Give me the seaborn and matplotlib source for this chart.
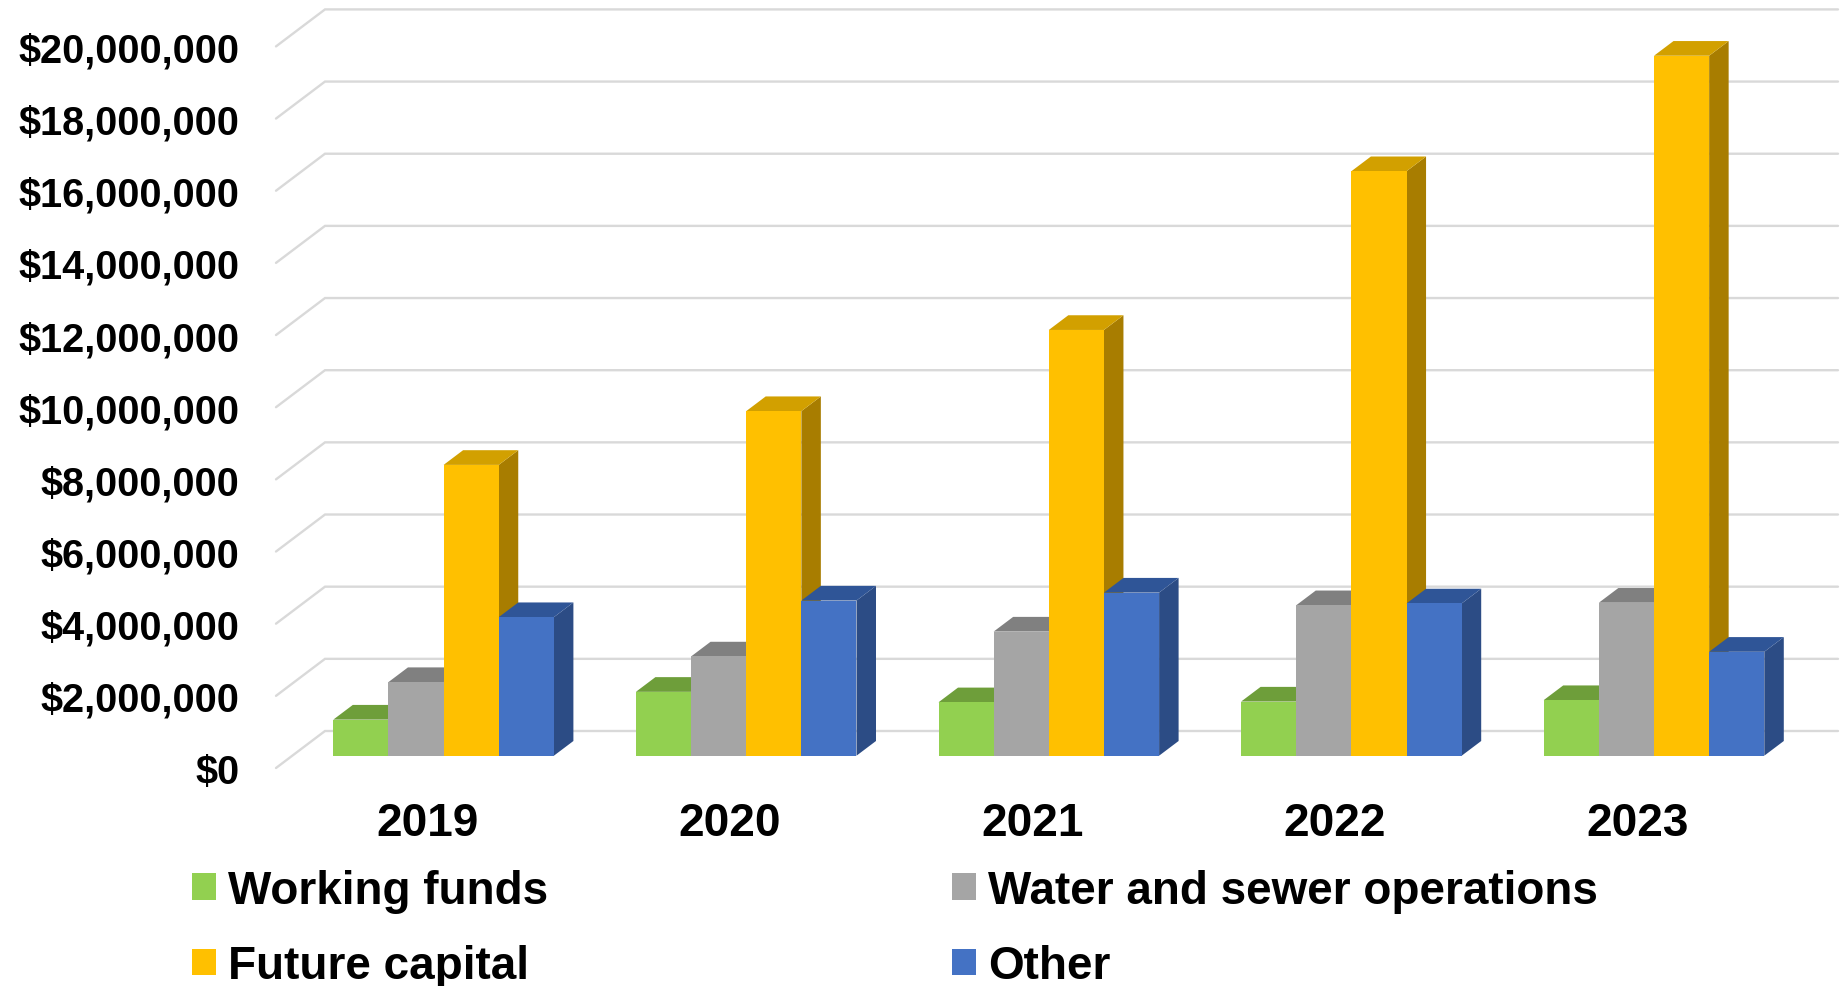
import numpy as np
import pandas as pd
import seaborn as sns
import matplotlib
matplotlib.use("Agg")
import matplotlib.pyplot as plt
from matplotlib.patches import Polygon, Patch
from matplotlib.lines import Line2D
from matplotlib.transforms import ScaledTranslation, IdentityTransform
from matplotlib.ticker import FuncFormatter, FixedLocator

# ---------------- data ----------------
years = ["2019", "2020", "2021", "2022", "2023"]
series = ["Working funds", "Water and sewer operations", "Future capital", "Other"]
working_funds = [1.00e6, 1.77e6, 1.48e6, 1.50e6, 1.54e6]
water_sewer = [2.04e6, 2.75e6, 3.44e6, 4.17e6, 4.24e6]
future_capital = [8.06e6, 9.55e6, 11.80e6, 16.20e6, 19.40e6]
other = [3.84e6, 4.30e6, 4.52e6, 4.22e6, 2.88e6]
y_ticks = list(range(0, 20_000_001, 2_000_000))

front_colors = ["#92D050", "#A5A5A5", "#FFC000", "#4472C4"]
top_colors = ["#6E9E3A", "#808080", "#D2A000", "#2F5597"]
side_colors = ["#5E8A30", "#777777", "#A87D00", "#2C4C85"]

values = [working_funds, water_sewer, future_capital, other]
df = pd.DataFrame({
    "Year": [y for s in series for y in years],
    "Series": [s for s in series for _ in years],
    "Value": [v for vals in values for v in vals],
})

# ---------------- style ----------------
sns.set_theme(style="white")
plt.rcParams["font.family"] = ["Liberation Sans", "DejaVu Sans"]
plt.rcParams["font.weight"] = "bold"
plt.rcParams["text.color"] = "black"

DPI = 100
W, H = 1845, 987
fig = plt.figure(figsize=(W / DPI, H / DPI), dpi=DPI)
fig.patch.set_facecolor("white")
ax = fig.add_axes([276 / W, 1 - 769 / H, (1789 - 276) / W, (769 - 47.4) / H])

sns.barplot(data=df, x="Year", y="Value", hue="Series", order=years,
            hue_order=series, palette=front_colors, saturation=1,
            width=0.729, errorbar=None, linewidth=0, legend=False, ax=ax)

ax.set_xlim(-0.5, 4.5)
ax.set_ylim(0, 20_000_000)
ax.yaxis.set_major_locator(FixedLocator(y_ticks))
ax.yaxis.set_major_formatter(FuncFormatter(lambda v, _: f"${v:,.0f}"))
for sp in ax.spines.values():
    sp.set_visible(False)
ax.grid(False)
ax.set_facecolor("none")
ax.set_xlabel("")
ax.set_ylabel("")
ax.tick_params(axis="y", length=0, pad=26.5, labelsize=28.5, labelcolor="black")
ax.tick_params(axis="x", length=0, pad=24, labelsize=33, labelcolor="black")
for lab in ax.get_xticklabels() + ax.get_yticklabels():
    lab.set_fontweight("bold")

# ---------------- pseudo-3D geometry (pixel offsets) ----------------
bar_off = (16.3, 12.3)     # bars' front face relative to front plane
depth = (19.5, 14.7)       # bar depth
wall = (49.0, 37.0)        # back wall relative to front plane

fig.canvas.draw()
T = ax.transData

# back-wall gridlines with diagonal side ticks
x_left, x_right = ax.get_xlim()
for v in y_ticks:
    xf, yf = T.transform((x_left, v))
    xr, _ = T.transform((x_right, v))
    ln = Line2D([xf, xf + wall[0], xr + wall[0]],
                [yf, yf + wall[1], yf + wall[1]],
                transform=IdentityTransform(), color="#D9D9D9",
                lw=1.7, zorder=0.5, clip_on=False, solid_joinstyle="miter")
    ax.add_line(ln)

# collect bars
bars = []
for si, cont in enumerate(ax.containers):
    for p in cont.patches:
        bars.append((p.get_x(), si, p))
bars.sort(key=lambda t: t[0])

shift = ScaledTranslation(bar_off[0] / DPI, bar_off[1] / DPI, fig.dpi_scale_trans)
for k, (_, si, p) in enumerate(bars):
    x0, y0 = p.get_x(), p.get_y()
    x1, y1 = x0 + p.get_width(), y0 + p.get_height()
    X0, Y0 = T.transform((x0, y0)) + np.array(bar_off)
    X1, Y1 = T.transform((x1, y1)) + np.array(bar_off)
    dx, dy = depth
    z = 2 + 0.01 * k
    side = Polygon([(X1, Y0), (X1 + dx, Y0 + dy), (X1 + dx, Y1 + dy), (X1, Y1)],
                   closed=True, transform=IdentityTransform(),
                   facecolor=side_colors[si], edgecolor="none", zorder=z, clip_on=False)
    top = Polygon([(X0, Y1), (X1, Y1), (X1 + dx, Y1 + dy), (X0 + dx, Y1 + dy)],
                  closed=True, transform=IdentityTransform(),
                  facecolor=top_colors[si], edgecolor="none", zorder=z, clip_on=False)
    ax.add_patch(side)
    ax.add_patch(top)
    p.set_transform(T + shift)
    p.set_zorder(z + 0.005)
    p.set_clip_on(False)
    p.set_linewidth(0)

# ---------------- legend ----------------
order = [0, 2, 1, 3]
handles = [Patch(facecolor=front_colors[i], edgecolor="none", label=series[i]) for i in order]
ax.legend(handles=handles, ncol=2, loc="upper left",
          bbox_to_anchor=(191.7 / W, 1 - 870 / H), bbox_transform=fig.transFigure,
          frameon=False, prop={"size": 33, "weight": "bold"}, labelcolor="black",
          handlelength=0.524, handleheight=0.524, handletextpad=0.27,
          columnspacing=8.8, labelspacing=0.68, borderpad=0, borderaxespad=0)

fig.savefig("out.png", dpi=DPI, facecolor="white")
